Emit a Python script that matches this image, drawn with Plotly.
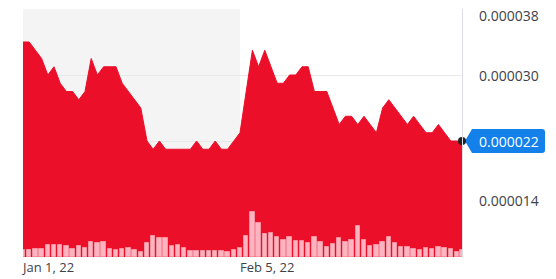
import plotly.graph_objects as go
import pandas as pd

# ---- data ----
dates = [d.strftime("%Y-%m-%d") for d in pd.date_range("2022-01-01", "2022-03-12", freq="D")]
dates.append("2022-03-12 19:20")

price = [34, 34, 33, 32, 30, 31, 29, 28, 28, 27,
         28, 32, 30, 31, 31, 31, 29, 28, 27, 26,
         22, 21, 22, 21, 21, 21, 21, 21, 22, 21,
         21, 22, 21, 21, 22, 23, 28, 33, 31, 33,
         31, 29, 29, 30, 30, 31, 31, 28, 28, 28,
         26, 24, 25, 25, 24, 25, 24, 23, 26, 27,
         26, 25, 24, 25, 24, 23, 23, 24, 23, 22,
         22, 22]
price = [p * 1e-6 for p in price]

volume = [7.3, 6.6, 8, 8, 12, 12, 12, 11, 8, 11,
          9, 15.3, 14.3, 15.3, 7.6, 7, 8, 8.6, 7, 4.6,
          14.3, 21, 19, 18.6, 10.6, 12, 9, 6, 6, 5.6,
          6, 6, 5.6, 5.3, 6.6, 9, 21, 44.6, 34, 23,
          24.3, 19.6, 16.6, 20, 15.6, 15.6, 13.6, 20, 14.6, 9.6,
          12.6, 19.3, 15.3, 17, 31, 17, 11.3, 12.3, 15, 20,
          14, 10, 10, 8, 7, 9, 7.6, 10, 8.6, 8.3,
          5.3, 6.6]

x_tickvals = ["2022-01-01", "2022-02-05"]
x_ticktext = ["Jan 1, 22", "Feb 5, 22"]
y_tickvals = [14e-6, 22e-6, 30e-6, 38e-6]
y_ticktext = ["0.000014", "0.000022", "0.000030", "0.000038"]
shade_range = ["2022-01-01", "2022-02-05"]

RED = "#eb0f2a"
FONT = "Open Sans"
TXT = "#3d4249"

fig = go.Figure()

fig.add_trace(go.Scatter(
    x=dates, y=price, mode="lines", fill="tozeroy",
    fillcolor=RED, line=dict(color=RED, width=1), hoverinfo="skip"))

fig.add_trace(go.Bar(
    x=dates, y=volume, yaxis="y2",
    marker=dict(color="#fdb4c0", line=dict(color="#f6929f", width=1)),
    width=0.72 * 86400000, hoverinfo="skip"))

# shaded period
fig.add_shape(type="rect", xref="x", yref="paper",
              x0=shade_range[0], x1=shade_range[1], y0=0, y1=1,
              fillcolor="#f4f4f4", line=dict(width=0), layer="below")

# current price tag
fig.add_shape(type="path", xref="paper", yref="y",
              xsizemode="pixel", ysizemode="pixel",
              xanchor=1, yanchor=price[-1],
              path="M 3,0 L 10,-12 L 80,-12 Q 83,-12 83,-9 L 83,9 Q 83,12 80,12 L 10,12 Z",
              fillcolor="#1481ea", line=dict(width=0), layer="between")

ymin, ymax = 7.94e-6, 38e-6
fig.update_layout(
    width=556, height=279,
    margin=dict(l=23, r=94, t=9, b=22),
    showlegend=False,
    plot_bgcolor="white", paper_bgcolor="white",
    bargap=0,
    xaxis=dict(type="date", range=[dates[0], dates[-1]],
               tickvals=x_tickvals, ticktext=x_ticktext,
               ticklabelposition="outside right", ticklabelstandoff=1,
               automargin=False,
               showgrid=False, showline=False, zeroline=False, ticks="",
               tickfont=dict(family=FONT, size=13, color=TXT)),
    yaxis=dict(range=[ymin, ymax], tickvals=y_tickvals, showticklabels=False,
               side="right", showgrid=True, gridcolor="#e8e8e8", gridwidth=1,
               zeroline=False, showline=True, linecolor="#dcdce3", linewidth=1,
               ticks="", automargin=False),
    yaxis2=dict(overlaying="y", range=[0, max(volume) * 5.56], visible=False),
)

label_x = (477 - 23) / 439
yshifts = {"0.000014": 7, "0.000022": 0, "0.000030": 0, "0.000038": -6}
for v, t in zip(y_tickvals, y_ticktext):
    if abs(v - price[-1]) < 1e-9:
        continue
    fig.add_annotation(xref="paper", yref="y", x=label_x, y=v, text=t,
                       xanchor="left", yanchor="middle", showarrow=False,
                       yshift=yshifts[t],
                       font=dict(family=FONT, size=14, color=TXT))

fig.add_annotation(xref="paper", yref="y", x=label_x, y=price[-1],
                   text=f"{price[-1]:.6f}", xanchor="left", yanchor="middle",
                   showarrow=False,
                   font=dict(family=FONT, size=14, color="white"))

# last-price dot drawn on top
fig.add_trace(go.Scatter(
    x=[dates[-1]], y=[price[-1]], mode="markers",
    marker=dict(color="#222222", size=8), cliponaxis=False, hoverinfo="skip"))

fig.write_html("out.html")
